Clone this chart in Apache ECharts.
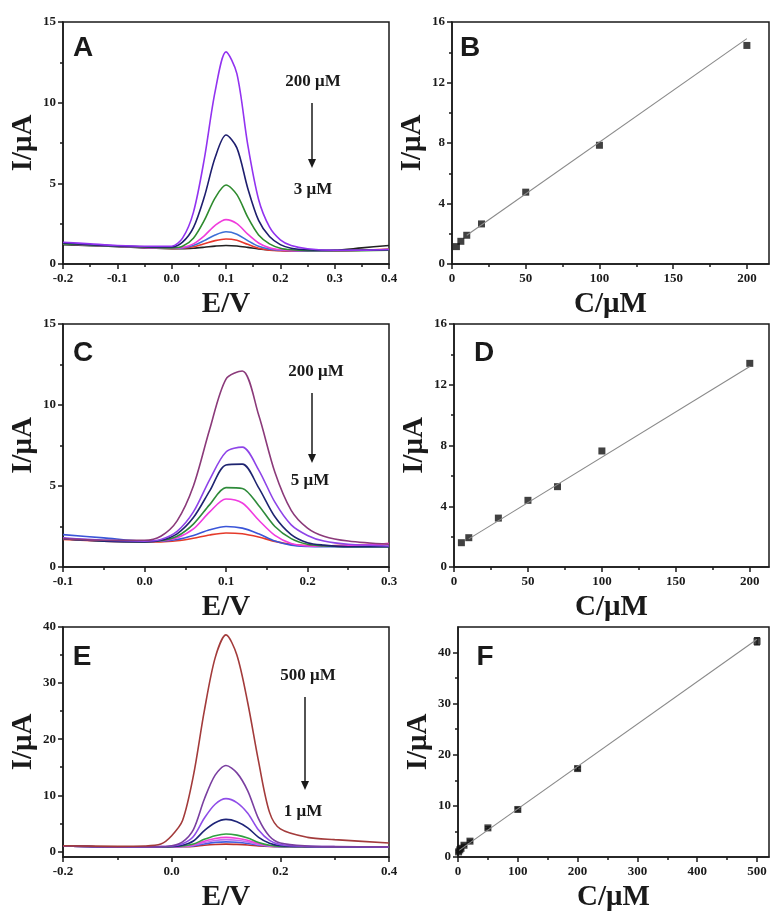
<!DOCTYPE html>
<html>
<head>
<meta charset="utf-8">
<script src="https://cdn.jsdelivr.net/npm/echarts@6/dist/echarts.min.js"></script>
<style>
  html, body { margin: 0; padding: 0; background: #fff; }
  #chart { width: 771px; height: 913px; }
</style>
</head>
<body>
<div id="chart"></div>
<script>
// panel A: DPV curves, 3-200 uM
const aX = [-0.2, -0.15, -0.1, -0.05, 0, 0.02, 0.04, 0.06, 0.08, 0.1, 0.12, 0.14, 0.16, 0.18, 0.2, 0.22, 0.25, 0.3, 0.35, 0.4];
const a200 = [1.35, 1.25, 1.15, 1.1, 1.1, 1.6, 3.2, 6.5, 10.7, 13.15, 11.8, 7.4, 4.0, 2.3, 1.5, 1.15, 0.95, 0.85, 0.85, 0.9];
const a100 = [1.3, 1.2, 1.12, 1.07, 1.05, 1.35, 2.25, 4.15, 6.6, 8.0, 7.2, 4.7, 2.7, 1.7, 1.2, 0.98, 0.88, 0.85, 0.85, 0.88];
const a50 = [1.25, 1.18, 1.1, 1.05, 1.0, 1.1, 1.6, 2.7, 4.1, 4.9, 4.3, 2.9, 1.8, 1.25, 0.98, 0.88, 0.83, 0.82, 0.83, 0.85];
const a20 = [1.25, 1.18, 1.1, 1.03, 0.98, 1.02, 1.25, 1.75, 2.4, 2.75, 2.5, 1.85, 1.3, 1.0, 0.88, 0.83, 0.82, 0.82, 0.85, 0.88];
const a10 = [1.25, 1.18, 1.1, 1.03, 0.98, 1.0, 1.15, 1.45, 1.8, 2.0, 1.85, 1.45, 1.1, 0.92, 0.85, 0.82, 0.8, 0.82, 0.85, 0.9];
const a6 = [1.25, 1.18, 1.1, 1.02, 0.97, 0.98, 1.07, 1.25, 1.45, 1.55, 1.47, 1.22, 0.98, 0.86, 0.82, 0.8, 0.8, 0.8, 0.85, 0.92];
const a3 = [1.2, 1.14, 1.08, 1.0, 0.95, 0.95, 0.98, 1.04, 1.11, 1.15, 1.12, 1.03, 0.93, 0.87, 0.84, 0.83, 0.82, 0.85, 1.0, 1.15];

// panel B: calibration
const bConc = [3, 6, 10, 20, 50, 100, 200];
const bCurr = [1.15, 1.5, 1.9, 2.65, 4.75, 7.85, 14.45];
const bFitX = [10, 200];
const bFitY = [1.9, 14.9];

// panel C: DPV curves, 5-200 uM
const cX = [-0.1, -0.05, 0, 0.02, 0.04, 0.06, 0.08, 0.1, 0.12, 0.14, 0.16, 0.18, 0.2, 0.22, 0.25, 0.3];
const c200 = [1.75, 1.65, 1.65, 1.9, 2.85, 5.0, 8.5, 11.6, 12.1, 9.4, 5.85, 3.5, 2.4, 1.9, 1.6, 1.4];
const c100 = [1.8, 1.65, 1.6, 1.7, 2.2, 3.4, 5.4, 7.1, 7.4, 6.0, 4.0, 2.6, 1.95, 1.6, 1.4, 1.3];
const c70 = [1.75, 1.6, 1.55, 1.65, 2.05, 3.05, 4.7, 6.3, 6.35, 4.9, 3.1, 2.0, 1.5, 1.35, 1.25, 1.25];
const c50 = [1.75, 1.6, 1.55, 1.62, 1.9, 2.65, 3.85, 4.9, 4.85, 3.8, 2.5, 1.75, 1.4, 1.3, 1.25, 1.25];
const c30 = [1.75, 1.6, 1.55, 1.6, 1.8, 2.35, 3.4, 4.2, 3.95, 2.9, 1.95, 1.45, 1.3, 1.28, 1.32, 1.45];
const c10 = [2.0, 1.8, 1.6, 1.6, 1.7, 1.95, 2.3, 2.5, 2.4, 2.05, 1.6, 1.35, 1.27, 1.25, 1.25, 1.25];
const c5 = [1.7, 1.6, 1.55, 1.55, 1.62, 1.78, 1.98, 2.1, 2.05, 1.85, 1.58, 1.4, 1.32, 1.3, 1.35, 1.45];

// panel D: calibration
const dConc = [5, 10, 30, 50, 70, 100, 200];
const dCurr = [1.6, 1.93, 3.22, 4.39, 5.29, 7.64, 13.41];
const dFitX = [10, 200];
const dFitY = [1.85, 13.2];

// panel E: DPV curves, 1-500 uM
const eX = [-0.2, -0.1, -0.05, -0.02, 0, 0.02, 0.04, 0.06, 0.08, 0.1, 0.12, 0.14, 0.16, 0.18, 0.2, 0.25, 0.3, 0.4];
const e500 = [1.0, 0.9, 0.95, 1.3, 2.8, 5.5, 13.5, 25, 34.5, 38.6, 35, 26.5, 16, 7.0, 4.0, 2.5, 2.1, 1.5];
const e200 = [0.95, 0.8, 0.8, 0.85, 1.0, 1.7, 3.9, 9.3, 13.6, 15.3, 14.0, 10.8, 5.8, 2.7, 1.5, 0.95, 0.85, 0.8];
const e100 = [0.95, 0.8, 0.8, 0.85, 0.95, 1.35, 2.65, 5.9, 8.4, 9.4, 8.7, 6.8, 3.8, 1.95, 1.2, 0.9, 0.85, 0.8];
const e50 = [0.95, 0.8, 0.8, 0.82, 0.88, 1.1, 1.85, 3.7, 5.1, 5.7, 5.3, 4.2, 2.5, 1.45, 1.0, 0.85, 0.82, 0.8];
const e20 = [0.95, 0.8, 0.8, 0.8, 0.85, 0.95, 1.3, 2.15, 2.8, 3.1, 2.9, 2.4, 1.6, 1.1, 0.9, 0.82, 0.8, 0.8];
const e10 = [0.95, 0.8, 0.8, 0.8, 0.83, 0.92, 1.15, 1.8, 2.3, 2.5, 2.35, 2.0, 1.38, 1.02, 0.87, 0.82, 0.8, 0.8];
const e5 = [0.95, 0.8, 0.8, 0.8, 0.82, 0.88, 1.07, 1.56, 1.95, 2.1, 1.98, 1.7, 1.22, 0.97, 0.86, 0.82, 0.8, 0.8];
const e3 = [0.95, 0.8, 0.8, 0.8, 0.81, 0.86, 0.99, 1.33, 1.6, 1.7, 1.62, 1.42, 1.1, 0.92, 0.84, 0.8, 0.8, 0.8];
const e1 = [0.95, 0.8, 0.8, 0.8, 0.8, 0.83, 0.9, 1.1, 1.24, 1.3, 1.25, 1.15, 0.97, 0.86, 0.82, 0.8, 0.8, 0.8];

// panel F: calibration with error bars
const fConc = [1, 3, 5, 10, 20, 50, 100, 200, 500];
const fCurr = [1.0, 1.4, 1.7, 2.3, 3.1, 5.7, 9.3, 17.3, 42.2];
const fErr = [0.2, 0.2, 0.2, 0.2, 0.2, 0.2, 0.3, 0.3, 0.7];
const fFitX = [2, 500];
const fFitY = [1.3, 42.6];

// tick values
const potTicksA = [-0.2, -0.1, 0, 0.1, 0.2, 0.3, 0.4];
const potTicksC = [-0.1, 0, 0.1, 0.2, 0.3];
const potTicksE = [-0.2, 0, 0.2, 0.4];
const curTicksAC = [0, 5, 10, 15];
const curTicksBD = [0, 4, 8, 12, 16];
const curTicksE = [0, 10, 20, 30, 40];
const concTicksBD = [0, 50, 100, 150, 200];
const concTicksF = [0, 100, 200, 300, 400, 500];

const SERIF = '"Liberation Serif", "DejaVu Serif", serif';
const INK = '#1a1a1a';

const grids = [
  { left: 63, top: 22, width: 326, height: 242 },
  { left: 452, top: 22, width: 317, height: 242 },
  { left: 63, top: 324, width: 326, height: 243 },
  { left: 454, top: 324, width: 315, height: 243 },
  { left: 63, top: 627, width: 326, height: 241 },
  { left: 458, top: 627, width: 311, height: 242 }
];

function midpoints(ticks, min, max) {
  const step = ticks[1] - ticks[0];
  const out = [];
  for (let i = 0; i < ticks.length; i++) {
    const m = +(ticks[i] + step / 2).toFixed(4);
    if (m > min && m < max) out.push(m);
  }
  if (ticks[0] - step / 2 > min) out.unshift(+(ticks[0] - step / 2).toFixed(4));
  return out;
}

const xAxes = [];
const yAxes = [];

function addAxes(g, xr, yr) {
  const lineStyle = { color: INK, width: 1.5 };
  xAxes.push({
    type: 'value', gridIndex: g, position: 'bottom', min: xr.min, max: xr.max,
    name: xr.name, nameLocation: 'middle', nameGap: 26,
    nameTextStyle: { fontFamily: SERIF, fontWeight: 'bold', fontSize: 29, color: INK, verticalAlign: 'top' },
    axisLine: { onZero: false, lineStyle },
    axisTick: { inside: false, length: 5, lineStyle, customValues: xr.ticks },
    axisLabel: {
      customValues: xr.ticks, margin: 8, color: INK, fontFamily: SERIF, fontWeight: 'bold', fontSize: 13,
      formatter: xr.fmt || (v => String(v))
    },
    splitLine: { show: false }
  });
  xAxes.push({
    type: 'value', gridIndex: g, position: 'bottom', min: xr.min, max: xr.max,
    axisLine: { show: false, onZero: false },
    axisTick: { length: 3, lineStyle, customValues: midpoints(xr.ticks, xr.min, xr.max) },
    axisLabel: { show: false }, splitLine: { show: false }
  });
  yAxes.push({
    type: 'value', gridIndex: g, position: 'left', min: yr.min, max: yr.max,
    name: 'I/\u03bcA', nameLocation: 'middle', nameGap: 25, nameRotate: 90,
    nameTextStyle: { fontFamily: SERIF, fontWeight: 'bold', fontSize: 29, color: INK },
    axisLine: { onZero: false, lineStyle },
    axisTick: { inside: false, length: 5, lineStyle, customValues: yr.ticks },
    axisLabel: { customValues: yr.ticks, margin: 7, color: INK, fontFamily: SERIF, fontWeight: 'bold', fontSize: 13 },
    splitLine: { show: false }
  });
  yAxes.push({
    type: 'value', gridIndex: g, position: 'left', min: yr.min, max: yr.max,
    axisLine: { show: false, onZero: false },
    axisTick: { length: 3, lineStyle, customValues: midpoints(yr.ticks, yr.min, yr.max) },
    axisLabel: { show: false }, splitLine: { show: false }
  });
}

const fmt1 = v => v.toFixed(1);
addAxes(0, { min: -0.2, max: 0.4, ticks: potTicksA, name: 'E/V', fmt: fmt1 }, { min: 0, max: 15, ticks: curTicksAC });
addAxes(1, { min: 0, max: 215, ticks: concTicksBD, name: 'C/\u03bcM' }, { min: 0, max: 16, ticks: curTicksBD });
addAxes(2, { min: -0.1, max: 0.3, ticks: potTicksC, name: 'E/V', fmt: fmt1 }, { min: 0, max: 15, ticks: curTicksAC });
addAxes(3, { min: 0, max: 213, ticks: concTicksBD, name: 'C/\u03bcM' }, { min: 0, max: 16, ticks: curTicksBD });
addAxes(4, { min: -0.2, max: 0.4, ticks: potTicksE, name: 'E/V', fmt: fmt1 }, { min: -1, max: 40, ticks: curTicksE });
addAxes(5, { min: 0, max: 520, ticks: concTicksF, name: 'C/\u03bcM' }, { min: 0, max: 45, ticks: curTicksE });

const zip = (xs, ys) => xs.map((x, i) => [x, ys[i]]);
const series = [];

function curves(g, xs, list) {
  list.forEach(([ys, color]) => {
    series.push({
      type: 'line', xAxisIndex: g * 2, yAxisIndex: g * 2, data: zip(xs, ys),
      smooth: 0.3, showSymbol: false, silent: true,
      lineStyle: { color, width: 1.6 }
    });
  });
}

function calib(g, xs, ys, fx, fy) {
  series.push({
    type: 'line', xAxisIndex: g * 2, yAxisIndex: g * 2, data: zip(fx, fy),
    showSymbol: false, lineStyle: { color: '#8a8a8a', width: 1.1 }
  });
  series.push({
    type: 'scatter', xAxisIndex: g * 2, yAxisIndex: g * 2, data: zip(xs, ys),
    symbol: 'rect', symbolSize: 7, itemStyle: { color: '#111' }
  });
}

curves(0, aX, [
  [a3, '#222222'], [a6, '#e8372c'], [a10, '#3d6fd6'], [a20, '#f03cdc'],
  [a50, '#2e8b2e'], [a100, '#1e1e6e'], [a200, '#9233f0']
]);
calib(1, bConc, bCurr, bFitX, bFitY);

curves(2, cX, [
  [c5, '#e53a2a'], [c10, '#3a55d8'], [c30, '#f03ce0'], [c50, '#2e8b3a'],
  [c70, '#1e2470'], [c100, '#8e44e8'], [c200, '#8b3a7a']
]);
calib(3, dConc, dCurr, dFitX, dFitY);

curves(4, eX, [
  [e1, '#c0302a'], [e3, '#4060e0'], [e5, '#c070f0'], [e10, '#f040d8'], [e20, '#30a040'],
  [e50, '#1e2478'], [e100, '#8f4de8'], [e200, '#7a3fa0'], [e500, '#a33b3b']
]);
calib(5, fConc, fCurr, fFitX, fFitY);

series.push({
  type: 'custom', xAxisIndex: 10, yAxisIndex: 10,
  data: fConc.map((c, i) => [c, fCurr[i] - fErr[i], fCurr[i] + fErr[i]]),
  renderItem: (params, api) => {
    const lo = api.coord([api.value(0), api.value(1)]);
    const hi = api.coord([api.value(0), api.value(2)]);
    const style = { stroke: '#111', lineWidth: 1.2 };
    return {
      type: 'group',
      children: [
        { type: 'line', shape: { x1: lo[0], y1: lo[1], x2: hi[0], y2: hi[1] }, style },
        { type: 'line', shape: { x1: lo[0] - 3, y1: lo[1], x2: lo[0] + 3, y2: lo[1] }, style },
        { type: 'line', shape: { x1: hi[0] - 3, y1: hi[1], x2: hi[0] + 3, y2: hi[1] }, style }
      ]
    };
  }
});

function label(text, x, y, font) {
  return {
    type: 'text', x, y,
    style: { text, font, fill: INK, textAlign: 'center', textVerticalAlign: 'middle', align: 'center', verticalAlign: 'middle' }
  };
}
function arrow(x, y1, y2) {
  return [
    { type: 'line', shape: { x1: x, y1, x2: x, y2: y2 - 6 }, style: { stroke: INK, lineWidth: 1.5 } },
    { type: 'polygon', shape: { points: [[x - 4, y2 - 9], [x + 4, y2 - 9], [x, y2]] }, style: { fill: INK } }
  ];
}

const LETTER = 'bold 28px "Liberation Sans", Arial, sans-serif';
const NOTE = 'bold 17px ' + SERIF;
const graphic = [
  label('A', 83, 48, LETTER), label('B', 470, 48, LETTER),
  label('C', 83, 353, LETTER), label('D', 484, 353, LETTER),
  label('E', 82, 657, LETTER), label('F', 485, 657, LETTER),
  label('200 \u03bcM', 313, 82, NOTE), label('3 \u03bcM', 313, 190, NOTE),
  ...arrow(312, 103, 168),
  label('200 \u03bcM', 316, 372, NOTE), label('5 \u03bcM', 310, 481, NOTE),
  ...arrow(312, 393, 463),
  label('500 \u03bcM', 308, 676, NOTE), label('1 \u03bcM', 303, 812, NOTE),
  ...arrow(305, 697, 790)
];

const chart = echarts.init(document.getElementById('chart'), null, { renderer: 'canvas' });
chart.setOption({
  animation: false,
  backgroundColor: '#fff',
  grid: grids.map(g => Object.assign({ show: true, borderColor: INK, borderWidth: 1.5, backgroundColor: 'transparent' }, g)),
  xAxis: xAxes,
  yAxis: yAxes,
  series,
  graphic
});
</script>
</body>
</html>
